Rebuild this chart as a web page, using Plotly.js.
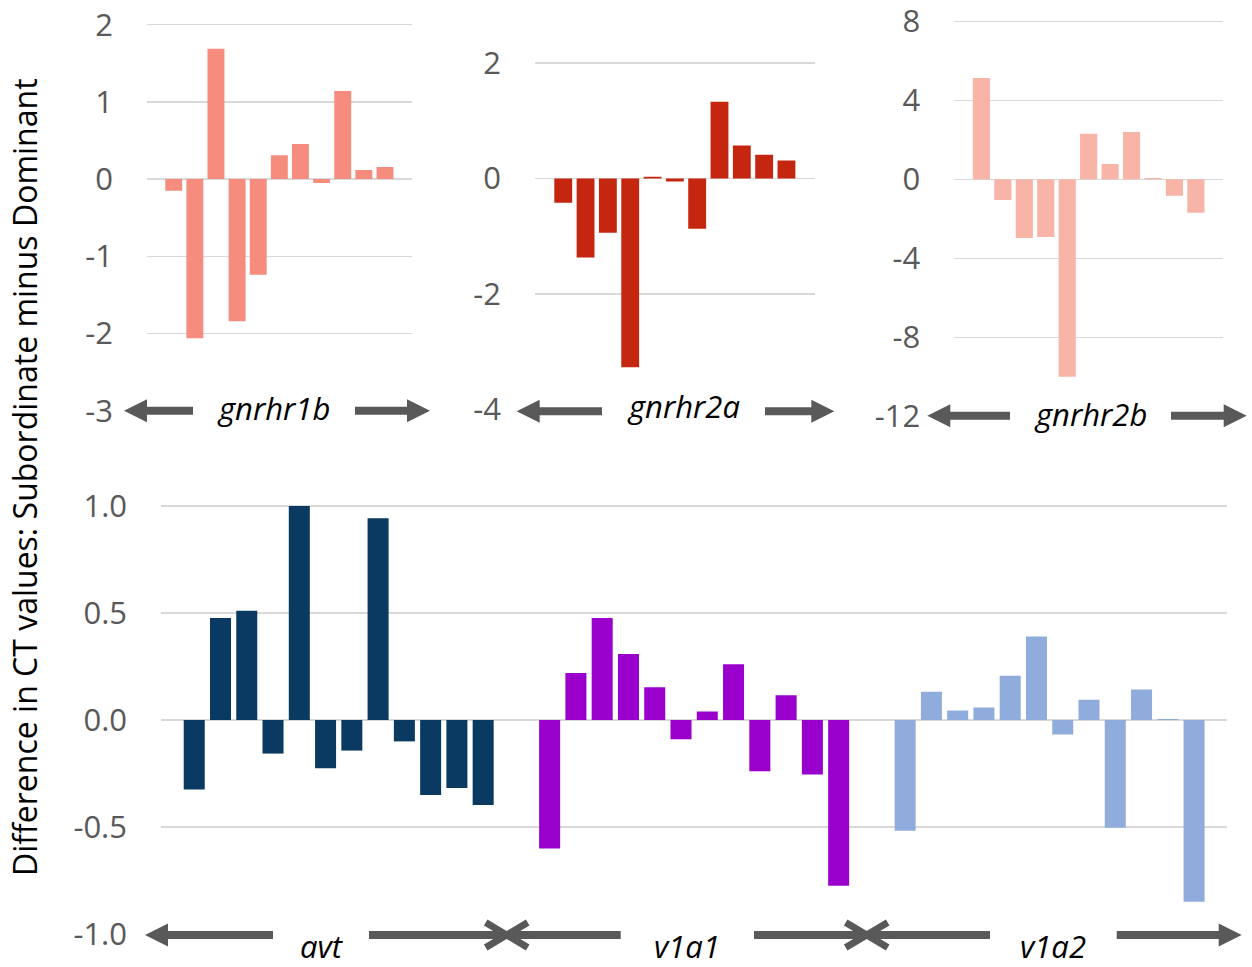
<!DOCTYPE html>
<html>
<head>
<meta charset="utf-8">
<script src="https://cdn.plot.ly/plotly-3.0.1.min.js"></script>
<style>html,body{margin:0;padding:0;background:#fff;}#chart{width:1252px;height:967px;}</style>
</head>
<body>
<div id="chart"></div>
<script>
// ---------- data ----------
const samplesTop = [1,2,3,4,5,6,7,8,9,10,11];
const samplesBottom = [1,2,3,4,5,6,7,8,9,10,11,12];

const gnrhr1b = [-0.15, -2.06, 1.69, -1.84, -1.24, 0.31, 0.455, -0.05, 1.14, 0.117, 0.156];
const gnrhr2a = [-0.42, -1.37, -0.94, -3.27, 0.03, -0.05, -0.87, 1.33, 0.57, 0.41, 0.31];
const gnrhr2b = [5.13, -1.05, -2.97, -2.92, -10.0, 2.3, 0.78, 2.4, 0.07, -0.84, -1.7];
const avt  = [-0.325, 0.477, 0.51, -0.157, 1.0, -0.225, -0.143, 0.942, -0.10, -0.35, -0.318, -0.397];
const v1a1 = [-0.60, 0.219, 0.477, 0.308, 0.153, -0.09, 0.04, 0.26, -0.24, 0.116, -0.255, -0.775];
const v1a2 = [-0.517, 0.132, 0.044, 0.058, 0.207, 0.39, -0.068, 0.095, -0.503, 0.142, 0.004, -0.849];

const genesTop = ['gnrhr1b', 'gnrhr2a', 'gnrhr2b'];
const genesBottom = ['avt', 'v1a1', 'v1a2'];

const tickVals1 = [-3, -2, -1, 0, 1, 2];
const tickText1 = ['-3', '-2', '-1', '0', '1', '2'];
const tickVals2 = [-4, -2, 0, 2];
const tickText2 = ['-4', '-2', '0', '2'];
const tickVals3 = [-12, -8, -4, 0, 4, 8];
const tickText3 = ['-12', '-8', '-4', '0', '4', '8'];
const tickValsB = [-1, -0.5, 0, 0.5, 1];
const tickTextB = ['-1.0', '-0.5', '0.0', '0.5', '1.0'];

const yTitle = 'Difference in CT values: Subordinate minus Dominant';

// ---------- layout helpers ----------
const W = 1252, H = 967;
const px = x => x / W;
const py = y => 1 - y / H;
const GRID = '#D9D9D9';
const TICKCOL = '#595959';
const ARROW = '#595959';
const tickFont = {family: 'Open Sans, Noto Sans, sans-serif', size: 31, color: TICKCOL};
const labelFont = {family: 'Open Sans, Noto Sans, sans-serif', size: 31, color: '#000000'};

function xax(d0, d1, n, anchor) {
  return {domain: [px(d0), px(d1)], range: [-0.265, n + 1.265], showgrid: false, zeroline: false,
          showticklabels: false, showline: false, ticks: '', anchor: anchor, fixedrange: true};
}
function yax(top, bottom, range, vals, text, anchor, showLabels) {
  return {domain: [py(bottom), py(top)], range: range, tickvals: vals, ticktext: text,
          showgrid: true, gridcolor: GRID, gridwidth: 1.5, zeroline: false, showline: false,
          ticks: '', showticklabels: showLabels, tickfont: tickFont, ticklabelstandoff: 33,
          ticklabeloverflow: 'allow', anchor: anchor, fixedrange: true};
}

function bar(x, y, color, xa, ya) {
  return {type: 'bar', x: x, y: y, xaxis: xa, yaxis: ya, width: 0.8,
          marker: {color: color, line: {width: 0}}, hoverinfo: 'skip', showlegend: false, cliponaxis: false};
}

const data = [
  bar(samplesTop, gnrhr1b, '#F58C7D', 'x', 'y'),
  bar(samplesTop, gnrhr2a, '#C4260F', 'x2', 'y2'),
  bar(samplesTop, gnrhr2b, '#F8B4A7', 'x3', 'y3'),
  bar(samplesBottom, avt,  '#0A3A62', 'x4', 'y4'),
  bar(samplesBottom, v1a1, '#9900CC', 'x5', 'y5'),
  bar(samplesBottom, v1a2, '#8FACDC', 'x6', 'y6')
];

// ---------- decorations: arrows ----------
const shapes = [];
function whiteBox(x0, x1, y) {
  shapes.push({type: 'rect', xref: 'paper', yref: 'paper', x0: px(x0), x1: px(x1), y0: py(y + 4), y1: py(y - 4),
               fillcolor: '#ffffff', line: {width: 0}, layer: 'above'});
}
function shaft(x0, x1, y) {
  shapes.push({type: 'line', xref: 'paper', yref: 'paper', x0: px(x0), x1: px(x1), y0: py(y), y1: py(y),
               line: {color: ARROW, width: 8}, layer: 'above'});
}
function filledHead(tip, y, dir) {
  const b = tip - dir * 23;
  const path = `M ${px(tip)} ${py(y)} L ${px(b)} ${py(y - 11.5)} L ${px(b)} ${py(y + 11.5)} Z`;
  shapes.push({type: 'path', xref: 'paper', yref: 'paper', path: path, fillcolor: ARROW,
               line: {color: ARROW, width: 0}, layer: 'above'});
}
function openHead(tip, y, dir) {
  const b = tip - dir * 21;
  const path = `M ${px(b)} ${py(y - 12.5)} L ${px(tip)} ${py(y)} L ${px(b)} ${py(y + 12.5)}`;
  shapes.push({type: 'path', xref: 'paper', yref: 'paper', path: path,
               line: {color: ARROW, width: 7}, layer: 'above'});
}

// top row
whiteBox(190, 358, 410.7);
shaft(145, 193, 410.7); filledHead(124, 410.7, -1);
shaft(355, 409, 410.7); filledHead(430, 410.7, 1);

whiteBox(600, 767, 409.5);
shaft(538, 602, 411.2); filledHead(516.7, 411.2, -1);
shaft(765, 812, 411.2); filledHead(834.3, 411.2, 1);

whiteBox(1008, 1173, 416.3);
shaft(948, 1010, 415.7); filledHead(927.3, 415.7, -1);
shaft(1171, 1225, 415.7); filledHead(1246.7, 415.7, 1);

// bottom row
const yb = 935;
whiteBox(270, 372, 934); whiteBox(618, 757, 934); whiteBox(987, 1119, 934);
shaft(166, 273, yb); filledHead(145, yb, -1);
shaft(369, 506.7, yb); openHead(506.7, yb, 1);
shaft(506.7, 620.7, yb); openHead(506.7, yb, -1);
shaft(754, 866.7, yb); openHead(866.7, yb, 1);
shaft(866.7, 990, yb); openHead(866.7, yb, -1);
shaft(1116.7, 1221, yb); filledHead(1241.7, yb, 1);

// ---------- text labels ----------
const annotations = [];
function label(text, x, y) {
  annotations.push({xref: 'paper', yref: 'paper', x: px(x), y: py(y), text: '<i>' + text + '</i>',
                    showarrow: false, xanchor: 'center', yanchor: 'middle', font: labelFont});
}
label(genesTop[0], 273, 408);
label(genesTop[1], 683, 406);
label(genesTop[2], 1090, 414);
label(genesBottom[0], 322, 946);
label(genesBottom[1], 687, 946);
label(genesBottom[2], 1053, 946);

annotations.push({xref: 'paper', yref: 'paper', x: px(24), y: py(477), text: yTitle, textangle: -90,
                  showarrow: false, xanchor: 'center', yanchor: 'middle',
                  font: {family: 'Open Sans, Noto Sans, sans-serif', size: 32, color: '#000000'}});

// small headroom so the top gridline (at the range end) is drawn
const layout = {
  width: W, height: H,
  margin: {l: 0, r: 0, t: 0, b: 0, pad: 0},
  paper_bgcolor: '#ffffff', plot_bgcolor: '#ffffff',
  showlegend: false, bargap: 0.2,
  xaxis:  xax(147, 411.7, samplesTop.length, 'y'),
  yaxis:  yax(22.4, 410.7, [-3, 2.03], tickVals1, tickText1, 'x', true),
  xaxis2: xax(535, 814.7, samplesTop.length, 'y2'),
  yaxis2: yax(60.7, 409.5, [-4, 2.04], tickVals2, tickText2, 'x2', true),
  xaxis3: xax(954.3, 1223, samplesTop.length, 'y3'),
  yaxis3: yax(18.9, 416.3, [-12, 8.12], tickVals3, tickText3, 'x3', true),
  xaxis4: xax(161, 516.4, samplesBottom.length, 'y4'),
  yaxis4: yax(503.6, 934, [-1, 1.011], tickValsB, tickTextB, 'x4', true),
  xaxis5: xax(516.4, 871.9, samplesBottom.length, 'y5'),
  yaxis5: yax(503.6, 934, [-1, 1.011], tickValsB, tickTextB, 'x5', false),
  xaxis6: xax(871.9, 1227.3, samplesBottom.length, 'y6'),
  yaxis6: yax(503.6, 934, [-1, 1.011], tickValsB, tickTextB, 'x6', false),
  shapes: shapes,
  annotations: annotations
};

Plotly.newPlot('chart', data, layout, {displayModeBar: false, staticPlot: true});
</script>
</body>
</html>
